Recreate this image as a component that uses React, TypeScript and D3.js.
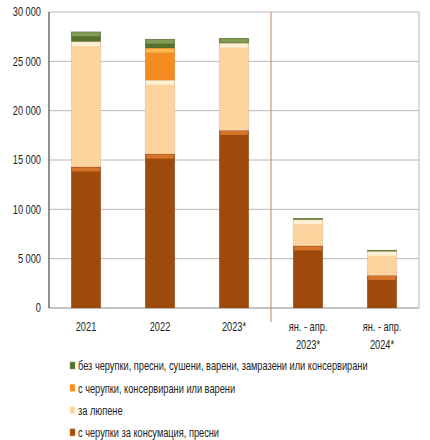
import * as d3 from "d3";

const categories = ["2021", "2022", "2023*", "ян. - апр.|2023*", "ян. - апр.|2024*"];

// stack order bottom -> top
const freshInShell = [14300, 15600, 18000, 6300, 3300];
const forPeeling = [12700, 7500, 8850, 2650, 2450];
const cannedInShell = [0, 3250, 0, 0, 0];
const shelled = [1000, 900, 500, 150, 120];

const yTicks = [0, 5000, 10000, 15000, 20000, 25000, 30000];

const seriesNames = [
  "с черупки за консумация, пресни",
  "за люпене",
  "с черупки, консервирани или варени",
  "без черупки, пресни, сушени, варени, замразени или консервирани",
];
const seriesColors = ["#9E4A0C", "#FDD39E", "#F48C22", "#56702E"];
const seriesTops = ["#E27A30", "#FFF6E2", "#FFC25A", "#8AA35C"];

const W = 430;
const H = 440;
const margin = { left: 49, right: 11, top: 12, bottom: 132 };
const narrow = 0.77;

export default function App() {
  const x = d3
    .scaleBand<string>()
    .domain(categories)
    .range([margin.left, W - margin.right])
    .paddingInner(0.6)
    .paddingOuter(0.3);
  const y = d3
    .scaleLinear()
    .domain([0, 30000])
    .range([H - margin.bottom, margin.top]);

  const rows = categories.map((c, i) => ({
    cat: c,
    s0: freshInShell[i],
    s1: forPeeling[i],
    s2: cannedInShell[i],
    s3: shelled[i],
  }));
  const stack = d3.stack<(typeof rows)[number]>().keys(["s0", "s1", "s2", "s3"]);
  const layers = stack(rows);
  const fmt = (v: number) => d3.format(",d")(v).replace(/,/g, " ");
  const font = "'Liberation Sans', Arial, sans-serif";
  const step = x.step();
  const sepX = x("ян. - апр.|2023*")! - (step - x.bandwidth()) / 2;
  const y0 = y(0);

  return (
    <svg
      width={W}
      height={H}
      style={{ position: "absolute", left: 0, top: 0, background: "#fff" }}
      fontFamily={font}
    >
      {yTicks.map((t) => (
        <g key={t}>
          {t > 0 && (
            <line x1={margin.left} x2={W - margin.right} y1={y(t)} y2={y(t)} stroke="#B8B8B8" strokeWidth={1} />
          )}
          <text
            transform={`translate(${margin.left - 8},${y(t)}) scale(${narrow},1)`}
            dy="0.35em"
            textAnchor="end"
            fontSize={12}
            fill="#222"
          >
            {fmt(t)}
          </text>
        </g>
      ))}
      <line x1={W - margin.right} x2={W - margin.right} y1={margin.top} y2={y0} stroke="#B8B8B8" />
      <line x1={margin.left} x2={W - margin.right} y1={y0} y2={y0} stroke="#888" />
      <line x1={margin.left} x2={margin.left} y1={margin.top} y2={y0} stroke="#222" />
      <line x1={sepX} x2={sepX} y1={margin.top} y2={y0 + 14} stroke="#C8824E" strokeWidth={1} />

      {layers.map((layer, li) =>
        layer.map((d, i) => {
          const h = y(d[0]) - y(d[1]);
          if (h <= 0) return null;
          const bx = x(categories[i])!;
          const bw = x.bandwidth();
          return (
            <g key={`${li}-${i}`}>
              <rect x={bx} y={y(d[1])} width={bw} height={h} fill={seriesColors[li]} stroke="rgba(0,0,0,0.12)" strokeWidth={0.6} />
              <rect x={bx + 1} y={y(d[1]) + 0.5} width={bw - 2} height={Math.min(4, h - 1)} fill={seriesTops[li]} opacity={0.85} />
            </g>
          );
        })
      )}

      {categories.map((c) => {
        const lines = c.split("|");
        const cx = x(c)! + x.bandwidth() / 2;
        return (
          <g key={c}>
            {lines.map((l, k) => (
              <text
                key={k}
                transform={`translate(${cx},${y0 + 23 + k * 18}) scale(${narrow},1)`}
                textAnchor="middle"
                fontSize={12}
                fill="#222"
              >
                {l}
              </text>
            ))}
          </g>
        );
      })}

      {[3, 2, 1, 0].map((si, k) => {
        const ly = 366 + k * 22.3;
        return (
          <g key={si}>
            <rect x={70} y={ly - 4} width={5} height={7} fill={seriesColors[si]} stroke={seriesTops[si]} strokeWidth={0.5} />
            <text
              transform={`translate(78,${ly}) scale(${narrow},1)`}
              dy="0.35em"
              fontSize={12}
              fill="#222"
            >
              {seriesNames[si]}
            </text>
          </g>
        );
      })}
    </svg>
  );
}
